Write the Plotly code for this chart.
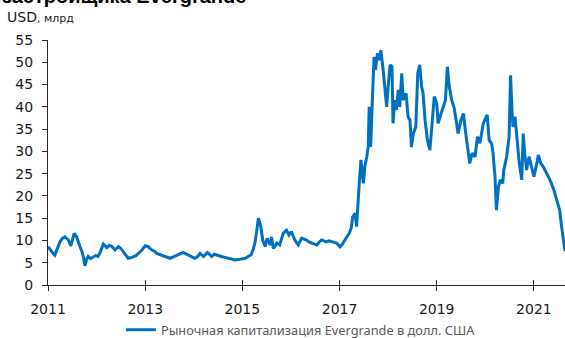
import pandas as pd
import plotly.graph_objects as go

# decimal year positions and market cap values (USD bn)
years = [
    2011.00, 2011.05, 2011.10, 2011.14, 2011.20, 2011.25, 2011.30, 2011.35, 2011.42, 2011.47,
    2011.54, 2011.59, 2011.66, 2011.70, 2011.73, 2011.76, 2011.80, 2011.83, 2011.88, 2011.93,
    2011.98, 2012.03, 2012.08, 2012.14, 2012.21, 2012.26, 2012.31, 2012.38, 2012.45, 2012.50,
    2012.55, 2012.60, 2012.65, 2012.70, 2012.76, 2012.81, 2012.86, 2012.93, 2013.00, 2013.06,
    2013.13, 2013.19, 2013.24, 2013.29, 2013.34, 2013.41, 2013.46, 2013.51, 2013.58, 2013.65,
    2013.71, 2013.78, 2013.84, 2013.89, 2013.95, 2014.02, 2014.08, 2014.13, 2014.20, 2014.28,
    2014.33, 2014.37, 2014.42, 2014.47, 2014.52, 2014.57, 2014.64, 2014.71, 2014.78, 2014.85,
    2014.92, 2014.99, 2015.06, 2015.12, 2015.18, 2015.22, 2015.26, 2015.29, 2015.33, 2015.38,
    2015.42, 2015.47, 2015.51, 2015.57, 2015.60, 2015.64, 2015.71, 2015.77, 2015.84, 2015.91,
    2015.96, 2016.01, 2016.08, 2016.15, 2016.22, 2016.27, 2016.32, 2016.38, 2016.43, 2016.48,
    2016.53, 2016.58, 2016.63, 2016.68, 2016.73, 2016.78, 2016.84, 2016.89, 2016.94, 2017.01,
    2017.06, 2017.11, 2017.16, 2017.20, 2017.24, 2017.27, 2017.32, 2017.35, 2017.41, 2017.44,
    2017.49, 2017.52, 2017.56, 2017.59, 2017.61, 2017.64, 2017.68, 2017.71, 2017.74, 2017.78,
    2017.82, 2017.85, 2017.89, 2017.92, 2017.97, 2018.00, 2018.04, 2018.08, 2018.10, 2018.14,
    2018.17, 2018.21, 2018.24, 2018.28, 2018.31, 2018.37, 2018.41, 2018.45, 2018.48, 2018.52,
    2018.57, 2018.61, 2018.65, 2018.69, 2018.72, 2018.76, 2018.81, 2018.86, 2018.91, 2018.95,
    2019.00, 2019.03, 2019.09, 2019.13, 2019.18, 2019.22, 2019.26, 2019.31, 2019.36, 2019.41,
    2019.44, 2019.50, 2019.55, 2019.59, 2019.65, 2019.68, 2019.73, 2019.79, 2019.84, 2019.89,
    2019.96, 2020.04, 2020.08, 2020.13, 2020.16, 2020.20, 2020.23, 2020.27, 2020.31, 2020.36,
    2020.38, 2020.44, 2020.49, 2020.52, 2020.55, 2020.57, 2020.61, 2020.66, 2020.70, 2020.75,
    2020.78, 2020.81, 2020.85, 2020.90, 2020.95, 2021.00, 2021.06, 2021.09, 2021.14, 2021.19,
    2021.26, 2021.33, 2021.40, 2021.47, 2021.53, 2021.57, 2021.60, 2021.62, 2021.64,
]
cap_usd_bn = [
    8.6, 7.8, 7.2, 6.7, 8.2, 9.8, 10.5, 10.8, 10.1, 8.8,
    11.6, 10.8, 8.6, 7.5, 6.2, 4.3, 5.8, 6.4, 5.9, 6.2,
    6.6, 6.4, 7.5, 9.2, 8.4, 8.9, 8.7, 7.9, 8.6, 8.2,
    7.5, 6.8, 6.0, 6.1, 6.3, 6.6, 7.1, 7.8, 8.8, 8.6,
    7.9, 7.6, 7.1, 6.9, 6.7, 6.4, 6.3, 6.0, 6.3, 6.7,
    6.9, 7.3, 7.0, 6.7, 6.4, 6.0, 6.4, 7.1, 6.4, 7.3,
    6.8, 6.4, 6.9, 6.7, 6.5, 6.4, 6.2, 6.0, 5.8, 5.6,
    5.7, 5.8, 6.0, 6.4, 6.8, 7.9, 9.5, 11.6, 15.0, 13.1,
    10.1, 8.6, 10.5, 9.0, 10.8, 8.2, 9.4, 9.0, 11.6, 12.3,
    11.2, 12.0, 10.1, 9.0, 10.5, 10.3, 10.1, 9.6, 9.4, 9.2,
    9.0, 9.6, 10.1, 9.9, 9.7, 9.9, 9.7, 9.5, 9.4, 8.6,
    9.2, 10.1, 10.8, 11.6, 12.8, 15.3, 16.1, 13.1, 23.6, 28.1,
    22.8, 26.6, 28.8, 31.0, 40.0, 31.0, 43.0, 51.2, 48.3, 52.0,
    50.5, 52.7, 49.0, 45.3, 40.0, 44.5, 49.4, 49.0, 36.3, 41.5,
    39.3, 43.8, 40.0, 47.5, 41.5, 43.0, 37.8, 37.0, 31.0, 34.0,
    35.5, 47.5, 49.4, 44.5, 43.0, 37.0, 32.5, 30.3, 36.3, 42.3,
    40.8, 36.3, 38.5, 40.0, 41.5, 49.0, 44.5, 41.5, 39.7, 36.3,
    34.0, 37.0, 38.5, 34.8, 30.3, 27.3, 29.6, 28.8, 33.3, 31.8,
    36.3, 38.2, 32.5, 31.8, 29.6, 24.3, 16.8, 22.0, 23.6, 22.8,
    25.8, 28.8, 33.3, 47.1, 39.3, 35.5, 37.8, 31.8, 27.3, 23.6,
    34.0, 29.6, 25.8, 28.8, 26.6, 24.3, 27.3, 29.2, 27.3, 26.6,
    25.1, 23.6, 21.7, 19.1, 16.8, 13.1, 10.1, 9.0, 7.6,
]

legend_label = "Рыночная капитализация Evergrande в долл. США"
title_text = "застройщика Evergrande"
unit_text = "USD<span style='font-size:11px'>, млрд</span>"


def to_date(y):
    base = pd.Timestamp(int(y), 1, 1)
    nxt = pd.Timestamp(int(y) + 1, 1, 1)
    return base + (nxt - base) * (y - int(y))


dates = [to_date(y) for y in years]
x_start = to_date(2011.0)
x_end = to_date(years[-1])

blue = "rgb(0,112,192)"
axis_col = "#262626"
font_main = "DejaVu Sans"

fig = go.Figure()
fig.add_trace(go.Scatter(x=dates, y=cap_usd_bn, mode="lines",
                         line=dict(color=blue, width=3),
                         name=legend_label, showlegend=True))
# invisible helper trace on overlay axis for inward tick marks
fig.add_trace(go.Scatter(x=dates, y=cap_usd_bn, mode="lines", xaxis="x2",
                         line=dict(color="rgba(0,0,0,0)", width=0),
                         showlegend=False, hoverinfo="skip"))

common_x = dict(type="date", range=[x_start, x_end], tick0="2011-01-01",
                dtick="M24", tickformat="%Y", showgrid=False, zeroline=False,
                ticklen=5, tickwidth=1.3, tickcolor=axis_col)

fig.update_layout(
    width=565, height=338,
    margin=dict(l=48, r=0, t=40, b=53, autoexpand=False),
    paper_bgcolor="white", plot_bgcolor="white",
    font=dict(family=font_main, size=14, color="#1a1a1a"),
    xaxis=dict(**common_x, ticks="outside", showline=True, linecolor=axis_col,
               linewidth=1.3, tickfont=dict(size=14, color="#1a1a1a"),
               ticklabelstandoff=6),
    xaxis2=dict(**common_x, ticks="inside", overlaying="x", anchor="y",
                side="bottom", showticklabels=False, showline=False),
    yaxis=dict(range=[0, 55], dtick=5, tick0=0, ticks="outside", ticklen=5,
               tickwidth=1.3, tickcolor=axis_col, showline=True,
               linecolor=axis_col, linewidth=1.3, showgrid=False,
               zeroline=False, tickfont=dict(size=14, color="#1a1a1a"),
               ticklabelstandoff=6),
    showlegend=True,
    legend=dict(orientation="h", xref="container", x=0.214, xanchor="left",
                yref="container", y=0.024, yanchor="middle",
                font=dict(family="Noto Sans", size=12.8, color="#595959"),
                bgcolor="rgba(0,0,0,0)", itemwidth=30),
    annotations=[
        dict(text="<b>" + title_text + "</b>", xref="paper", yref="paper",
             x=-0.0928, y=1.1265, xanchor="left", yanchor="bottom",
             showarrow=False, font=dict(family="Liberation Sans", size=20,
                                        color="#000000")),
        dict(text=unit_text, xref="paper", yref="paper", x=-0.083, y=1.094,
             xanchor="left", yanchor="middle", showarrow=False,
             font=dict(family=font_main, size=14, color="#1a1a1a")),
    ],
)

fig.write_html("out.html")
